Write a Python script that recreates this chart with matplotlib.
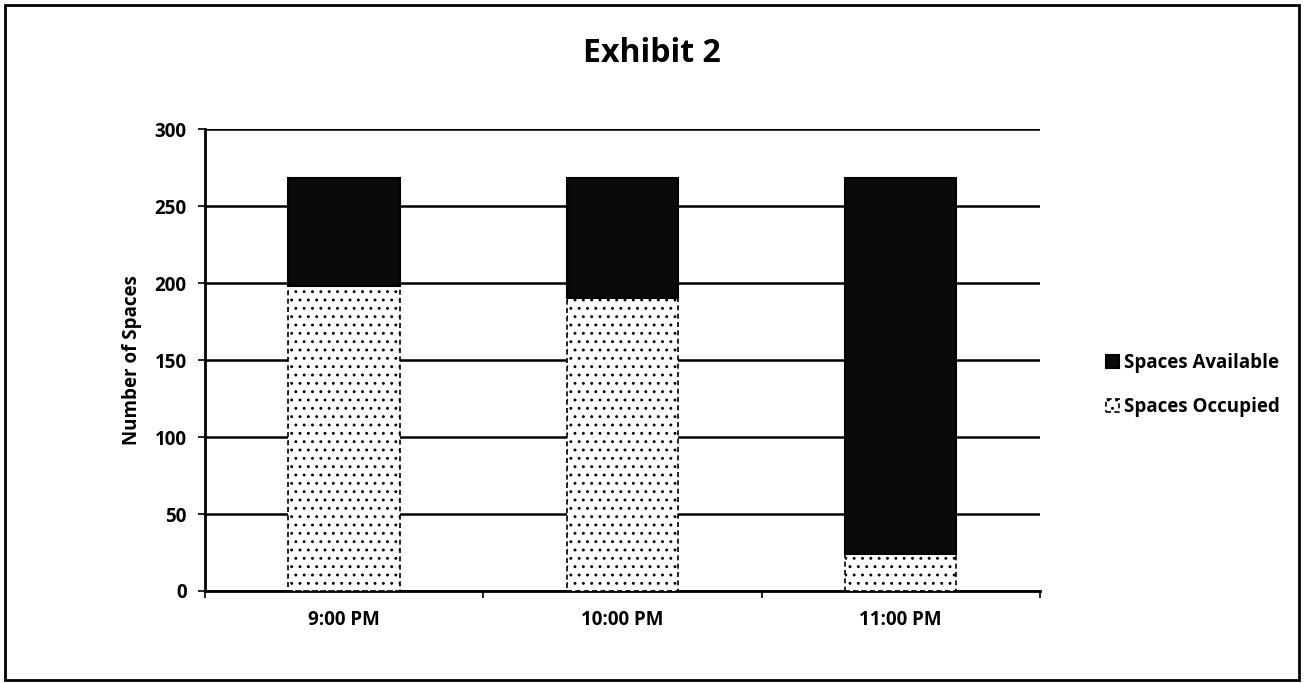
import numpy as np
import matplotlib.pyplot as plt
from matplotlib.patches import Rectangle

times = ['9:00 PM', '10:00 PM', '11:00 PM']
occupied = [198, 190, 24]
available = [70, 78, 244]

plt.rcParams['font.family'] = ['Open Sans', 'DejaVu Sans']
plt.rcParams['hatch.linewidth'] = 0.9

fig = plt.figure(figsize=(13.04, 6.83), dpi=100)
ax = fig.add_axes([0.157, 0.1347, 0.6405, 0.6764])

x = np.arange(len(times))
ax.bar(x, occupied, width=0.4, color='white', edgecolor='black',
       hatch='..', linestyle=(0, (3, 2)), linewidth=1.2, label='Spaces Occupied', zorder=3)
ax.bar(x, available, width=0.4, bottom=occupied, color='#0a0a0a', edgecolor='black',
       linewidth=1.5, label='Spaces Available', zorder=3)

ax.set_xlim(-0.5, 2.5)
ax.set_ylim(0, 300)
ax.set_yticks(range(0, 301, 50))
ax.set_xticks(x)
ax.set_xticklabels(times)
ax.set_xticks([-0.5, 0.5, 1.5, 2.5], minor=True)
ax.tick_params(axis='x', which='major', length=0, pad=14)
ax.tick_params(axis='x', which='minor', length=5, width=1.2, direction='out')
ax.tick_params(axis='y', length=5, width=1.2, direction='out', pad=8)
for lab in ax.get_xticklabels() + ax.get_yticklabels():
    lab.set_fontsize(13.5)
    lab.set_fontweight('bold')

ax.yaxis.grid(True, color='black', linewidth=1.8, zorder=0)
ax.set_axisbelow(True)
for s in ['top', 'right']:
    ax.spines[s].set_visible(False)
ax.spines['left'].set_linewidth(2)
ax.spines['bottom'].set_linewidth(2)

ax.set_ylabel('Number of Spaces', fontsize=13.5, fontweight='bold', labelpad=9)
fig.text(0.5, 0.922, 'Exhibit 2', ha='center', va='center', fontsize=23, fontweight='bold')

handles, labels = ax.get_legend_handles_labels()
leg = fig.legend(handles[::-1], labels[::-1], loc='center left', bbox_to_anchor=(0.835, 0.436),
                 frameon=False, handlelength=0.7, handleheight=0.7, handletextpad=0.3,
                 labelspacing=1.3, prop={'size': 13.5, 'weight': 'bold'})

fig.patches.append(Rectangle((0.004, 0.005), 0.992, 0.988, transform=fig.transFigure,
                             fill=False, edgecolor='black', linewidth=2))

fig.savefig('out.png', dpi=100)
